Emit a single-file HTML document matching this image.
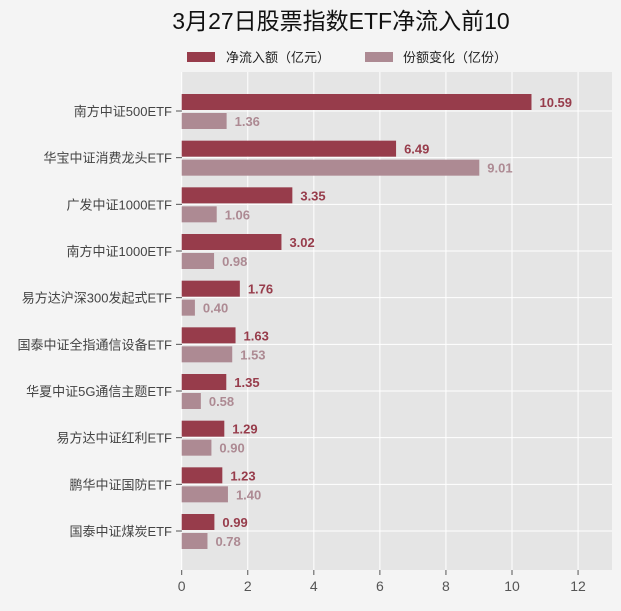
<!DOCTYPE html>
<html><head><meta charset="utf-8"><style>
body{margin:0;background:#f4f4f4;}
svg text{font-family:"Liberation Sans","Noto Sans CJK SC",sans-serif;}
</style></head><body>
<svg id="chart" width="621" height="606" xmlns="http://www.w3.org/2000/svg">
<rect width="621" height="606" fill="#f4f4f4"/>
<text x="341" y="29" font-size="23" text-anchor="middle" fill="#111">3月27日股票指数ETF净流入前10</text>
<g>
<rect x="187" y="52" width="28" height="10" fill="#973c4b"/>
<text x="226" y="62" font-size="13" fill="#222">净流入额（亿元）</text>
<rect x="365" y="52" width="28" height="10" fill="#ad8a93"/>
<text x="403" y="62" font-size="13" fill="#222">份额变化（亿份）</text>
</g>
<g id="plot"></g>
</svg>
<script>
const categories=["南方中证500ETF","华宝中证消费龙头ETF","广发中证1000ETF","南方中证1000ETF","易方达沪深300发起式ETF","国泰中证全指通信设备ETF","华夏中证5G通信主题ETF","易方达中证红利ETF","鹏华中证国防ETF","国泰中证煤炭ETF"];
const netInflow=[10.59,6.49,3.35,3.02,1.76,1.63,1.35,1.29,1.23,0.99];
const shareChange=[1.36,9.01,1.06,0.98,0.40,1.53,0.58,0.90,1.40,0.78];
const xTicks=[0,2,4,6,8,10,12];
const NS="http://www.w3.org/2000/svg";
const L=182,R=612,T=72,B=570,X0=181.7,PX=33.03;
const xs=v=>X0+v*PX;
const yc=i=>111+i*((531-111)/(categories.length-1));
const g=document.getElementById('plot');
function mk(tag,attrs,txt){const e=document.createElementNS(NS,tag);for(const k in attrs)e.setAttribute(k,attrs[k]);if(txt!==undefined)e.textContent=txt;g.appendChild(e);return e;}
let e=mk('rect',{x:L,y:T,width:R-L,height:B-T,fill:'#e5e5e5'});


xTicks.forEach(t=>{
 let l=mk('line',{x1:xs(t),x2:xs(t),y1:T,y2:B,stroke:'#fff','stroke-width':1});
 
 
 let tk=mk('line',{x1:xs(t),x2:xs(t),y1:B,y2:B+5,stroke:'#555'});
 
 
 let tx=mk('text',{x:xs(t),y:B+21,'font-size':14,'text-anchor':'middle',fill:'#555'},String(t));
 
 
});
categories.forEach((c,i)=>{
 const y=yc(i);
 let l=mk('line',{x1:L,x2:R,y1:y,y2:y,stroke:'#fff','stroke-width':1});
 
 
 let tk=mk('line',{x1:L-6,x2:L,y1:y,y2:y,stroke:'#555'});
 
 
 let tx=mk('text',{x:L-10,y:y+5,'font-size':13,'text-anchor':'end',fill:'#444'},c);
 
 
 let b1=mk('rect',{x:xs(0),y:y-17,width:xs(netInflow[i])-xs(0),height:16,fill:'#973c4b'});
 
 
 let t1=mk('text',{x:xs(netInflow[i])+8,y:y-4,'font-size':13,'font-weight':'bold',fill:'#973c4b'},netInflow[i].toFixed(2));
 
 
 let b2=mk('rect',{x:xs(0),y:y+2,width:xs(shareChange[i])-xs(0),height:16,fill:'#ad8a93'});
 
 
 let t2=mk('text',{x:xs(shareChange[i])+8,y:y+15,'font-size':13,'font-weight':'bold',fill:'#ad8a93'},shareChange[i].toFixed(2));
 
 
});
</script>
</body></html>
